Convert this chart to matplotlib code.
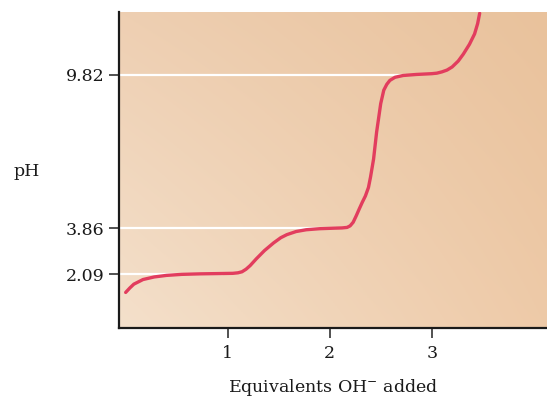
import numpy as np
import matplotlib
matplotlib.use("Agg")
import matplotlib.pyplot as plt
from matplotlib.colors import to_rgb

# =============================================
# DATA
# =============================================
equiv = [0.0, 0.04, 0.08, 0.17, 0.28, 0.40, 0.55, 0.73, 0.90, 1.05, 1.10,
         1.14, 1.18, 1.22, 1.28, 1.36, 1.45, 1.52, 1.58, 1.67, 1.77, 1.90,
         2.04, 2.12, 2.17, 2.20, 2.23, 2.26, 2.29, 2.32, 2.35, 2.38, 2.40,
         2.43, 2.46, 2.50, 2.53, 2.56, 2.59, 2.64, 2.72, 2.85, 3.00, 3.05,
         3.10, 3.15, 3.20, 3.26, 3.31, 3.37, 3.42, 3.45, 3.47]
ph = [1.38, 1.55, 1.70, 1.88, 1.98, 2.04, 2.08, 2.10, 2.11, 2.12, 2.14,
      2.18, 2.28, 2.42, 2.68, 3.00, 3.30, 3.50, 3.62, 3.74, 3.81, 3.85,
      3.87, 3.88, 3.90, 3.96, 4.10, 4.35, 4.62, 4.88, 5.12, 5.45, 5.85,
      6.55, 7.60, 8.70, 9.22, 9.45, 9.60, 9.72, 9.79, 9.83, 9.86, 9.88,
      9.93, 10.0, 10.12, 10.35, 10.62, 11.00, 11.40, 11.80, 12.2]

pka_values = [2.09, 3.86, 9.82]
pka_line_end = [0.95, 2.06, 2.75]
x_ticks = [1, 2, 3]

# =============================================
# FIGURE
# =============================================
plt.rcParams["font.family"] = ["DejaVu Serif"]
plt.rcParams["mathtext.fontset"] = "dejavuserif"

fig = plt.figure(figsize=(5.47, 4.01), dpi=100)
ax = fig.add_axes([0.218, 0.182, 0.782, 0.788])

# diagonal peach gradient as background
c_bl = np.array(to_rgb("#f4e0cb"))
c_tl = np.array(to_rgb("#eecfb2"))
c_br = np.array(to_rgb("#eecaa8"))
c_tr = np.array(to_rgb("#e9c29c"))
u = np.linspace(0, 1, 200)[None, :, None]
v = np.linspace(0, 1, 200)[:, None, None]
grad = (c_bl * (1 - u) * (1 - v) + c_br * u * (1 - v)
        + c_tl * (1 - u) * v + c_tr * u * v)
ax.imshow(grad, extent=[0, 1, 0, 1], origin="lower", aspect="auto",
          transform=ax.transAxes, zorder=0)

xmin, xmax = -0.063, 4.13
ax.hlines(pka_values, xmin, pka_line_end, colors="white", lw=1.6, zorder=1)
ax.plot(equiv, ph, color="#e23d5e", lw=2.4, solid_capstyle="round",
        solid_joinstyle="round", zorder=2)

ax.set_xlim(xmin, xmax)
ax.set_ylim(0, 12.25)
ax.set_xticks(x_ticks)
ax.set_xticklabels([str(t) for t in x_ticks])
ax.set_yticks(pka_values)
ax.set_yticklabels([f"{p:.2f}" for p in pka_values])

for side in ["top", "right"]:
    ax.spines[side].set_visible(False)
for side in ["left", "bottom"]:
    ax.spines[side].set_linewidth(1.6)
    ax.spines[side].set_color("#1a1a1a")
ax.tick_params(axis="both", direction="out", length=7, width=1.2,
               color="#333333", labelsize=12.5, labelcolor="#1a1a1a")
ax.tick_params(axis="x", pad=5)
ax.tick_params(axis="y", pad=3.5)

ax.set_xlabel("Equivalents OH$^{-}$ added", fontsize=12.5, color="#1a1a1a")
ax.xaxis.set_label_coords(0.5, -0.155)
ax.set_ylabel("pH", rotation=0, fontsize=12.5, color="#1a1a1a")
ax.yaxis.set_label_coords(-0.216, 0.47)

fig.savefig("out.png", dpi=100)
